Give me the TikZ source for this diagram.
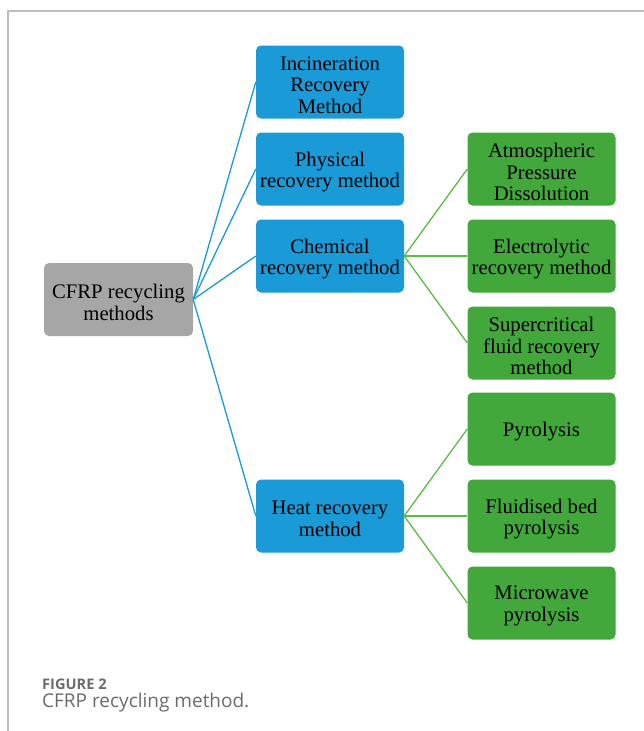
\documentclass[tikz,border=0pt]{standalone}
\usepackage{fontspec}
\setmainfont{Liberation Serif}
\newfontfamily\capfont{Open Sans}
\definecolor{bblue}{HTML}{1A9AD6}
\definecolor{ggreen}{HTML}{43A83B}
\definecolor{lgreen}{HTML}{5DBB46}
\definecolor{ggray}{HTML}{A6A6A6}
\definecolor{framec}{HTML}{BDBDBD}
\definecolor{capc}{HTML}{6B6B6B}
\tikzset{
  box/.style={rounded corners=5pt, minimum width=148pt, minimum height=73pt,
    inner sep=0pt},
  boxtext/.style={align=center, inner sep=0pt, yshift=-3pt, text=black,
    font=\fontsize{20.7pt}{21.5pt}\selectfont},
  rootbox/.style={box, fill=ggray, minimum width=149pt},
  bluebox/.style={box, fill=bblue},
  greenbox/.style={box, fill=ggreen},
  blink/.style={draw=bblue, line width=1.3pt},
  glink/.style={draw=lgreen, line width=1.3pt}
}
\begin{document}
\begin{tikzpicture}[x=1pt,y=-1pt]
\useasboundingbox (0,0) rectangle (644,731);
\draw[framec, line width=1.5pt] (644,11) -- (8,11) -- (8,731);
\node[rootbox, label={[boxtext]center:{CFRP recycling\\methods}}] (root) at (118.5,299.5) {};
\node[bluebox, label={[boxtext]center:{Incineration\\Recovery\\Method}}] (inc) at (330,82) {};
\node[bluebox, label={[boxtext]center:{Physical\\recovery method}}] (phy) at (330,169) {};
\node[bluebox, label={[boxtext]center:{Chemical\\recovery method}}] (che) at (330,256) {};
\node[bluebox, label={[boxtext]center:{Heat recovery\\method}}] (hea) at (330,516) {};
\node[greenbox, label={[boxtext]center:{Atmospheric\\Pressure\\Dissolution}}] (atm) at (541.5,169) {};
\node[greenbox, label={[boxtext]center:{Electrolytic\\recovery method}}] (ele) at (541.5,256) {};
\node[greenbox, label={[boxtext]center:{Supercritical\\fluid recovery\\method}}] (sup) at (541.5,343) {};
\node[greenbox, label={[boxtext]center:{Pyrolysis}}] (pyr) at (541.5,429) {};
\node[greenbox, label={[boxtext]center:{Fluidised bed\\pyrolysis}}] (flu) at (541.5,516) {};
\node[greenbox, label={[boxtext]center:{Microwave\\pyrolysis}}] (mic) at (541.5,603) {};
\foreach \t in {inc,phy,che,hea} \draw[blink] (root.east) -- (\t.west);
\foreach \t in {atm,ele,sup} \draw[glink] (che.east) -- (\t.west);
\foreach \t in {pyr,flu,mic} \draw[glink] (hea.east) -- (\t.west);
\node[anchor=base west, inner sep=0pt, text=capc, font=\capfont\bfseries\fontsize{14.6pt}{16pt}\selectfont] (figlab) at (42,689) {FIGURE 2};
\node[anchor=base west, inner sep=0pt, text=capc, font=\capfont\fontsize{19pt}{21pt}\selectfont] (cap) at (42,707) {CFRP recycling method.};
\end{tikzpicture}
\end{document}
